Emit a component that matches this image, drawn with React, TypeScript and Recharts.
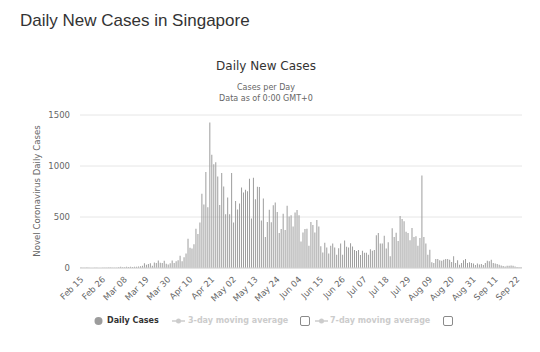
import React from 'react';
import { BarChart, Bar, XAxis, YAxis, CartesianGrid } from 'recharts';

// daily new cases
const feb = [5, 3, 2, 4, 3, 1, 1, 3, 3, 1, 1, 2, 3, 3, 4]; // Feb 15 - 29
const mar = [
  4, 2, 2, 2, 7, 13, 8, 8, 12, 10, 12, 11, 13, 12, 14, 17, 23, 47, 32, 40,
  47, 23, 54, 49, 73, 52, 49, 70, 42, 35, 47,
];
const apr = [
  74, 49, 65, 75, 120, 66, 106, 142, 287, 198, 191, 233, 386, 334, 447, 728,
  623, 942, 596, 1426, 1111, 1016, 1037, 897, 618, 931, 799, 528, 690, 528,
];
const may = [
  932, 447, 657, 573, 632, 788, 741, 768, 753, 876, 486, 884, 675, 796, 793,
  465, 682, 305, 451, 570, 448, 614, 642, 548, 344, 383, 533, 373, 611, 506, 518,
];
const jun = [
  408, 544, 569, 517, 261, 347, 383, 386, 218, 451, 422, 347, 470, 407, 214,
  151, 247, 200, 142, 218, 240, 200, 130, 193, 240, 130, 270, 209, 200, 242,
];
const jul = [
  210, 177, 167, 177, 128, 170, 150, 150, 130, 183, 170, 177, 322, 342, 240,
  239, 315, 190, 252, 114, 390, 305, 345, 265, 510, 481, 458, 355, 343, 271, 392,
];
const aug = [
  304, 311, 219, 294, 906, 304, 239, 131, 180, 56, 49, 88, 88, 75, 72, 82,
  88, 88, 82, 59, 114, 49, 75, 33, 49, 75, 88, 49, 56, 50, 43,
];
const sep = [
  30, 43, 35, 38, 30, 49, 72, 65, 82, 49, 45, 40, 33, 25, 20, 15, 22, 22, 25,
  22, 15, 10, 8, 8,
]; // Sep 1 - 24

const months = [
  { name: 'Feb', first: 15, values: feb },
  { name: 'Mar', first: 1, values: mar },
  { name: 'Apr', first: 1, values: apr },
  { name: 'May', first: 1, values: may },
  { name: 'Jun', first: 1, values: jun },
  { name: 'Jul', first: 1, values: jul },
  { name: 'Aug', first: 1, values: aug },
  { name: 'Sep', first: 1, values: sep },
];

const yTicks = [0, 500, 1000, 1500];

const chartData = months.flatMap((m) =>
  m.values.map((v, i) => ({
    date: `${m.name} ${String(m.first + i).padStart(2, '0')}`,
    cases: v,
  }))
);

const FONT = '"Lucida Grande", "Lucida Sans Unicode", "DejaVu Sans", sans-serif';

function XTick({ x, y, payload }: any) {
  const tx = x + 3;
  const ty = y + 10;
  return (
    <text
      x={tx}
      y={ty}
      transform={`rotate(-45 ${tx} ${ty})`}
      textAnchor="end"
      fontSize={8.5}
      fontFamily={FONT}
      fill="#666"
    >
      {payload.value}
    </text>
  );
}

function YTitle() {
  return (
    <text
      transform="translate(40,191) rotate(-90)"
      textAnchor="middle"
      fontSize={8.6}
      fontFamily={FONT}
      fill="#666"
    >
      Novel Coronavirus Daily Cases
    </text>
  );
}

function Checkbox({ left }: { left: number }) {
  return (
    <div
      style={{
        position: 'absolute',
        left,
        top: 316,
        width: 8,
        height: 8,
        border: '1px solid #8a8a8a',
        borderRadius: 2,
        background: '#fff',
      }}
    />
  );
}

function LineIcon({ left }: { left: number }) {
  return (
    <svg style={{ position: 'absolute', left, top: 316 }} width={13} height={10}>
      <line x1={0} y1={5} x2={13} y2={5} stroke="#ccc" strokeWidth={1.5} />
      <circle cx={6.5} cy={5} r={2.5} fill="#ccc" />
    </svg>
  );
}

export default function App() {
  const legendText = {
    position: 'absolute' as const,
    top: 315,
    fontSize: 8,
    lineHeight: '12px',
    fontWeight: 'bold' as const,
    fontFamily: FONT,
    whiteSpace: 'nowrap' as const,
  };

  return (
    <div style={{ position: 'relative', width: 540, height: 352, background: '#fff', overflow: 'hidden' }}>
      <style>{'body{margin:0}'}</style>
      <div
        style={{
          position: 'absolute',
          left: 20,
          top: 11,
          fontSize: 17,
          lineHeight: '19px',
          fontFamily: '"Liberation Sans", Arial, sans-serif',
          color: '#333',
          whiteSpace: 'nowrap',
        }}
      >
        Daily New Cases in Singapore
      </div>

      <BarChart
        width={540}
        height={352}
        data={chartData}
        margin={{ top: 115, right: 18, left: 0, bottom: 24 }}
        barCategoryGap="25%"
        style={{ position: 'absolute', left: 0, top: 0 }}
      >
        <CartesianGrid vertical={false} stroke="#e6e6e6" />
        <XAxis
          dataKey="date"
          interval={10}
          tickLine={false}
          tickSize={0}
          axisLine={{ stroke: '#d6d6d6' }}
          height={60}
          tick={<XTick />}
        />
        <YAxis
          width={80}
          domain={[0, 1500]}
          ticks={yTicks}
          axisLine={false}
          tickLine={false}
          tickSize={0}
          tickMargin={10}
          tick={{ fontSize: 8.5, fill: '#666', fontFamily: FONT }}
          label={<YTitle />}
        />
        <Bar dataKey="cases" fill="#9c9c9c" isAnimationActive={false} />
      </BarChart>

      <div
        style={{
          position: 'absolute',
          left: 0,
          width: 532,
          top: 59,
          textAlign: 'center',
          fontSize: 12,
          lineHeight: '14px',
          fontFamily: FONT,
          color: '#333',
        }}
      >
        Daily New Cases
      </div>
      <div
        style={{
          position: 'absolute',
          left: 0,
          width: 532,
          top: 82,
          textAlign: 'center',
          fontSize: 8,
          lineHeight: '11px',
          fontFamily: FONT,
          color: '#666',
        }}
      >
        Cases per Day
        <br />
        Data as of 0:00 GMT+0
      </div>

      <svg style={{ position: 'absolute', left: 94, top: 316 }} width={10} height={10}>
        <circle cx={4.5} cy={5} r={4} fill="#9c9c9c" />
      </svg>
      <div style={{ ...legendText, left: 107, color: '#333' }}>Daily Cases</div>
      <LineIcon left={172} />
      <div style={{ ...legendText, left: 188, color: '#ccc' }}>3-day moving average</div>
      <Checkbox left={300} />
      <LineIcon left={315} />
      <div style={{ ...legendText, left: 330, color: '#ccc' }}>7-day moving average</div>
      <Checkbox left={443} />
    </div>
  );
}
